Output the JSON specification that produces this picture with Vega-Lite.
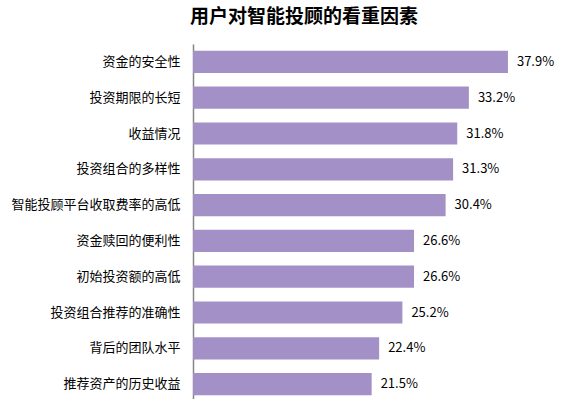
{
  "$schema": "https://vega.github.io/schema/vega-lite/v6.json",
  "autosize": "none",
  "width": 381,
  "height": 358,
  "padding": {"left": 193, "top": 44, "right": 0, "bottom": 0},
  "background": "white",
  "title": {
    "text": "用户对智能投顾的看重因素",
    "anchor": "start",
    "frame": "group",
    "dx": -3,
    "offset": 2,
    "baseline": "alphabetic",
    "font": "Noto Sans CJK SC",
    "fontSize": 19,
    "fontWeight": "bold",
    "color": "#000000"
  },
  "data": {
    "values": [
      {"factor": "资金的安全性", "value": 0.379},
      {"factor": "投资期限的长短", "value": 0.332},
      {"factor": "收益情况", "value": 0.318},
      {"factor": "投资组合的多样性", "value": 0.313},
      {"factor": "智能投顾平台收取费率的高低", "value": 0.304},
      {"factor": "资金赎回的便利性", "value": 0.266},
      {"factor": "初始投资额的高低", "value": 0.266},
      {"factor": "投资组合推荐的准确性", "value": 0.252},
      {"factor": "背后的团队水平", "value": 0.224},
      {"factor": "推荐资产的历史收益", "value": 0.215}
    ]
  },
  "encoding": {
    "y": {
      "field": "factor",
      "type": "nominal",
      "sort": null,
      "scale": {"paddingInner": 0.38, "paddingOuter": 0.19},
      "axis": {
        "title": null,
        "ticks": false,
        "labelPadding": 13,
        "labelFont": "Noto Sans CJK SC",
        "labelFontSize": 13,
        "labelColor": "#000000",
        "domainColor": "#868686",
        "domainWidth": 1.5,
        "grid": false
      }
    },
    "x": {
      "field": "value",
      "type": "quantitative",
      "scale": {"domain": [0, 0.4585], "nice": false, "zero": true},
      "axis": null
    }
  },
  "layer": [
    {"mark": {"type": "bar", "color": "#A390C7"}},
    {
      "mark": {
        "type": "text",
        "align": "left",
        "baseline": "middle",
        "dx": 9,
        "font": "Noto Sans CJK SC",
        "fontSize": 13,
        "color": "#000000"
      },
      "encoding": {"text": {"field": "value", "type": "quantitative", "format": ".1%"}}
    }
  ],
  "config": {"view": {"stroke": null}}
}
